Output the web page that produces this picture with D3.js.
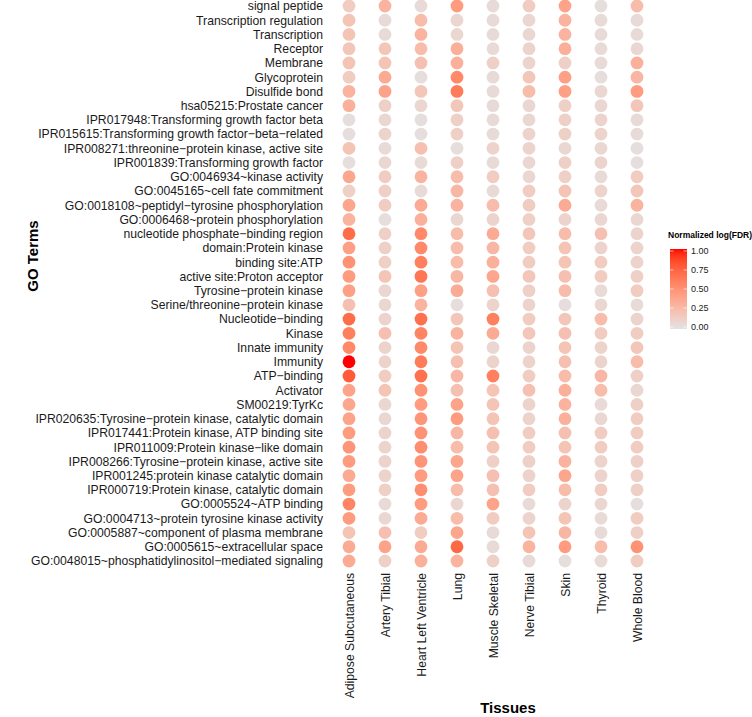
<!DOCTYPE html>
<html>
<head>
<meta charset="utf-8">
<script src="https://cdn.jsdelivr.net/npm/d3@7"></script>
<style>
  body { margin: 0; background: #fff; }
  svg { display: block; font-family: "Liberation Sans", Arial, sans-serif; }
</style>
</head>
<body>
<svg id="chart" width="752" height="717"></svg>
<script>
const terms = [
  "signal peptide",
  "Transcription regulation",
  "Transcription",
  "Receptor",
  "Membrane",
  "Glycoprotein",
  "Disulfide bond",
  "hsa05215:Prostate cancer",
  "IPR017948:Transforming growth factor beta",
  "IPR015615:Transforming growth factor\u2212beta\u2212related",
  "IPR008271:threonine\u2212protein kinase, active site",
  "IPR001839:Transforming growth factor",
  "GO:0046934~kinase activity",
  "GO:0045165~cell fate commitment",
  "GO:0018108~peptidyl\u2212tyrosine phosphorylation",
  "GO:0006468~protein phosphorylation",
  "nucleotide phosphate\u2212binding region",
  "domain:Protein kinase",
  "binding site:ATP",
  "active site:Proton acceptor",
  "Tyrosine\u2212protein kinase",
  "Serine/threonine\u2212protein kinase",
  "Nucleotide\u2212binding",
  "Kinase",
  "Innate immunity",
  "Immunity",
  "ATP\u2212binding",
  "Activator",
  "SM00219:TyrKc",
  "IPR020635:Tyrosine\u2212protein kinase, catalytic domain",
  "IPR017441:Protein kinase, ATP binding site",
  "IPR011009:Protein kinase\u2212like domain",
  "IPR008266:Tyrosine\u2212protein kinase, active site",
  "IPR001245:protein kinase catalytic domain",
  "IPR000719:Protein kinase, catalytic domain",
  "GO:0005524~ATP binding",
  "GO:0004713~protein tyrosine kinase activity",
  "GO:0005887~component of plasma membrane",
  "GO:0005615~extracellular space",
  "GO:0048015~phosphatidylinositol\u2212mediated signaling"
];

const tissues = ["Adipose Subcutaneous", "Artery Tibial", "Heart Left Ventricle", "Lung",
  "Muscle Skeletal", "Nerve Tibial", "Skin", "Thyroid", "Whole Blood"];

// Normalized log(FDR), one array per tissue, in the order of `terms`
const adipose = [0.15,0.2,0.2,0.18,0.2,0.15,0.3,0.32,0.03,0.03,0.2,0.03,0.38,0.12,0.38,0.3,0.7,0.42,0.5,0.45,
                 0.42,0.22,0.7,0.6,0.55,1.0,0.78,0.4,0.38,0.4,0.45,0.48,0.45,0.35,0.45,0.58,0.45,0.2,0.35,0.35];
const artery  = [0.3,0.05,0.05,0.18,0.2,0.35,0.4,0.12,0.08,0.1,0.05,0.08,0.15,0.12,0.15,0.03,0.12,0.12,0.12,0.2,
                 0.08,0.08,0.1,0.22,0.1,0.1,0.15,0.2,0.08,0.08,0.1,0.1,0.1,0.1,0.12,0.05,0.08,0.22,0.4,0.12];
const heart   = [0.05,0.25,0.3,0.25,0.22,0.03,0.18,0.08,0.03,0.03,0.22,0.05,0.3,0.05,0.35,0.32,0.55,0.55,0.6,0.65,
                 0.42,0.3,0.68,0.58,0.55,0.62,0.68,0.5,0.45,0.48,0.5,0.52,0.48,0.45,0.52,0.45,0.35,0.15,0.35,0.32];
const lung    = [0.45,0.08,0.08,0.33,0.32,0.55,0.62,0.18,0.12,0.12,0.03,0.12,0.25,0.28,0.3,0.08,0.25,0.25,0.25,0.28,
                 0.35,0.03,0.18,0.3,0.2,0.22,0.28,0.22,0.4,0.45,0.28,0.25,0.38,0.4,0.25,0.08,0.25,0.38,0.72,0.3];
const muscle  = [0.05,0.05,0.05,0.05,0.12,0.05,0.05,0.05,0.05,0.05,0.1,0.05,0.15,0.05,0.25,0.1,0.35,0.28,0.32,0.38,
                 0.22,0.1,0.6,0.35,0.08,0.1,0.6,0.2,0.2,0.2,0.22,0.2,0.12,0.22,0.22,0.4,0.15,0.05,0.05,0.12];
const nerve   = [0.15,0.08,0.08,0.1,0.1,0.18,0.25,0.08,0.08,0.1,0.1,0.08,0.08,0.15,0.15,0.12,0.18,0.15,0.15,0.18,
                 0.12,0.1,0.15,0.18,0.1,0.1,0.15,0.22,0.1,0.1,0.15,0.15,0.12,0.1,0.15,0.05,0.1,0.2,0.3,0.05];
const skin    = [0.4,0.3,0.3,0.33,0.12,0.42,0.42,0.12,0.12,0.12,0.08,0.12,0.12,0.2,0.35,0.1,0.25,0.2,0.2,0.22,
                 0.25,0.03,0.18,0.22,0.2,0.22,0.25,0.32,0.3,0.32,0.22,0.2,0.3,0.38,0.25,0.1,0.2,0.28,0.45,0.03];
const thyroid = [0.03,0.05,0.05,0.05,0.05,0.03,0.08,0.08,0.1,0.1,0.08,0.1,0.05,0.1,0.05,0.08,0.22,0.1,0.15,0.15,
                 0.05,0.08,0.25,0.15,0.1,0.1,0.28,0.25,0.05,0.08,0.15,0.15,0.1,0.1,0.15,0.08,0.05,0.05,0.25,0.05];
const blood   = [0.25,0.05,0.05,0.08,0.32,0.28,0.45,0.18,0.05,0.05,0.03,0.03,0.15,0.18,0.3,0.08,0.1,0.1,0.1,0.12,
                 0.15,0.05,0.1,0.15,0.18,0.25,0.12,0.08,0.12,0.15,0.15,0.15,0.12,0.12,0.12,0.03,0.15,0.12,0.5,0.15];

const seriesByTissue = [adipose, artery, heart, lung, muscle, nerve, skin, thyroid, blood];
const legendTicks = [0, 0.25, 0.5, 0.75, 1];

const cells = [];
tissues.forEach((t, ti) => {
  terms.forEach((g, gi) => {
    cells.push({ tissue: t, term: g, value: seriesByTissue[ti][gi] });
  });
});

const svg = d3.select("#chart");

const x = d3.scalePoint().domain(tissues).range([349, 637]);
const y = d3.scalePoint().domain(terms).range([6, 561]);
const color = d3.scaleLinear().domain([0, 1]).range(["#e3e3e3", "#ff0000"]).interpolate(d3.interpolateLab);

// dots
svg.append("g")
  .selectAll("circle")
  .data(cells)
  .join("circle")
  .attr("cx", d => x(d.tissue))
  .attr("cy", d => y(d.term))
  .attr("r", 6.4)
  .attr("fill", d => color(d.value));

// y axis
const yAxis = svg.append("g")
  .attr("transform", "translate(327,0)")
  .call(d3.axisLeft(y).tickSize(0).tickPadding(4));
yAxis.select(".domain").remove();
yAxis.selectAll("text")
  .attr("font-size", 12.2)
  .attr("font-family", "Liberation Sans, Arial, sans-serif")
  .attr("fill", "#1a1a1a");

// x axis
const xAxis = svg.append("g")
  .attr("transform", "translate(0,569)")
  .call(d3.axisBottom(x).tickSize(0).tickPadding(4));
xAxis.select(".domain").remove();
xAxis.selectAll("text")
  .attr("font-size", 12.2)
  .attr("font-family", "Liberation Sans, Arial, sans-serif")
  .attr("fill", "#1a1a1a")
  .attr("transform", "rotate(-90)")
  .attr("text-anchor", "end")
  .attr("dy", "0.35em")
  .attr("x", -4)
  .attr("y", 0);

// axis titles
svg.append("text")
  .attr("transform", "translate(38,256) rotate(-90)")
  .attr("text-anchor", "middle")
  .attr("font-weight", "bold")
  .attr("font-size", 15)
  .text("GO Terms");

svg.append("text")
  .attr("x", 508)
  .attr("y", 713)
  .attr("text-anchor", "middle")
  .attr("font-weight", "bold")
  .attr("font-size", 15)
  .text("Tissues");

// legend
const defs = svg.append("defs");
const grad = defs.append("linearGradient")
  .attr("id", "lg").attr("x1", "0").attr("y1", "1").attr("x2", "0").attr("y2", "0");
d3.range(0, 1.0001, 0.05).forEach(v => {
  grad.append("stop").attr("offset", v).attr("stop-color", color(v));
});

const lx = 670, lw = 17;
const ly = d3.scaleLinear().domain([0, 1]).range([327, 251]);
svg.append("rect")
  .attr("x", lx).attr("y", ly(1) - 2)
  .attr("width", lw).attr("height", ly(0) - ly(1) + 4)
  .attr("fill", "url(#lg)");

const lg = svg.append("g");
lg.selectAll("line.tl")
  .data(legendTicks)
  .join("line")
  .attr("x1", lx).attr("x2", lx + 3.5)
  .attr("y1", d => ly(d)).attr("y2", d => ly(d))
  .attr("stroke", "#fff").attr("stroke-width", 0.6);
lg.selectAll("line.tr")
  .data(legendTicks)
  .join("line")
  .attr("x1", lx + lw - 3.5).attr("x2", lx + lw)
  .attr("y1", d => ly(d)).attr("y2", d => ly(d))
  .attr("stroke", "#fff").attr("stroke-width", 0.6);
lg.selectAll("text")
  .data(legendTicks)
  .join("text")
  .attr("x", lx + lw + 4)
  .attr("y", d => ly(d))
  .attr("dy", "0.35em")
  .attr("font-size", 9)
  .attr("fill", "#1a1a1a")
  .text(d => d3.format(".2f")(d));

svg.append("text")
  .attr("x", 668)
  .attr("y", 238)
  .attr("font-weight", "bold")
  .attr("font-size", 8.5)
  .text("Normalized log(FDR)");
</script>
</body>
</html>
